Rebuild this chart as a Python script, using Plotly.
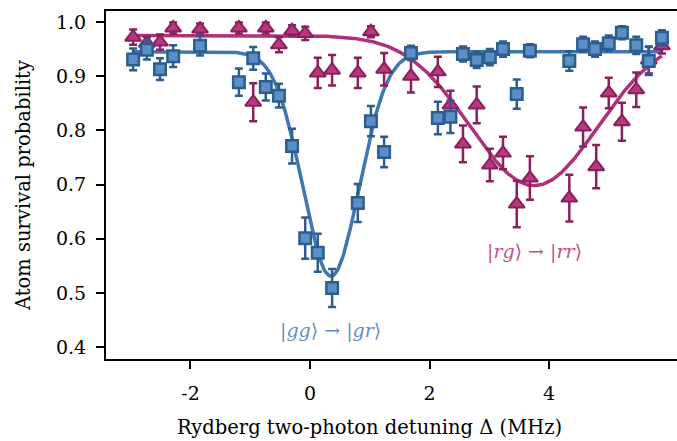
import numpy as np
import plotly.graph_objects as go

# Detuning values (MHz)
x_gg = [-2.96, -2.73, -2.51, -2.29, -1.84, -1.19, -0.95, -0.74, -0.52, -0.30, -0.08,
        0.13, 0.37, 0.80, 1.02, 1.24, 1.69, 2.14, 2.35, 2.56, 2.79, 3.01, 3.23, 3.46,
        3.68, 4.34, 4.57, 4.77, 5.00, 5.22, 5.46, 5.67, 5.89]
y_gg = [0.931, 0.949, 0.913, 0.937, 0.956, 0.889, 0.933, 0.880, 0.864, 0.771, 0.601,
        0.574, 0.509, 0.666, 0.817, 0.760, 0.943, 0.823, 0.825, 0.941, 0.930, 0.935,
        0.950, 0.867, 0.947, 0.928, 0.959, 0.950, 0.961, 0.980, 0.957, 0.928, 0.971]
e_gg = [0.020, 0.018, 0.020, 0.020, 0.018, 0.025, 0.021, 0.025, 0.022, 0.032, 0.038,
        0.035, 0.035, 0.035, 0.028, 0.028, 0.013, 0.030, 0.030, 0.014, 0.015, 0.015,
        0.014, 0.027, 0.012, 0.018, 0.014, 0.014, 0.014, 0.012, 0.016, 0.026, 0.014]

x_rg = [-2.96, -2.73, -2.51, -2.29, -1.84, -1.19, -0.95, -0.74, -0.52, -0.30, -0.08,
        0.13, 0.37, 0.80, 1.02, 1.24, 1.69, 2.14, 2.35, 2.56, 2.79, 3.01, 3.23, 3.46,
        3.68, 4.34, 4.57, 4.79, 5.00, 5.22, 5.46, 5.67, 5.89]
y_rg = [0.972, 0.961, 0.963, 0.989, 0.987, 0.989, 0.852, 0.989, 0.958, 0.984, 0.979,
        0.906, 0.911, 0.906, 0.982, 0.913, 0.900, 0.908, 0.847, 0.775, 0.847, 0.736,
        0.758, 0.664, 0.712, 0.675, 0.806, 0.733, 0.869, 0.816, 0.875, 0.930, 0.956]
e_rg = [0.014, 0.012, 0.014, 0.010, 0.010, 0.010, 0.035, 0.010, 0.014, 0.010, 0.012,
        0.028, 0.028, 0.028, 0.010, 0.030, 0.030, 0.028, 0.026, 0.034, 0.034, 0.030,
        0.030, 0.043, 0.040, 0.043, 0.036, 0.040, 0.028, 0.035, 0.032, 0.025, 0.014]

# Fit parameters (Gaussian dips): baseline, depth, centre, width
fit_gg = dict(b=0.945, a=0.414, x0=0.35, s=0.47)
fit_rg = dict(b=0.975, a=0.277, x0=3.75, s=1.07)

x_ticks = [-2, 0, 2, 4]
y_ticks = [0.4, 0.5, 0.6, 0.7, 0.8, 0.9, 1.0]

BLUE_LINE = "#3f77b1"
BLUE_FILL = "#5b8fc8"
BLUE_EDGE = "#2c5d8e"
RED_LINE = "#b0307a"
RED_FILL = "#b8387f"
RED_EDGE = "#8a1f5c"


def gauss_dip(xx, p):
    return p["b"] - p["a"] * np.exp(-(xx - p["x0"]) ** 2 / (2 * p["s"] ** 2))


xf_gg = np.linspace(min(x_gg), max(x_gg), 400)
xf_rg = np.linspace(min(x_rg), max(x_rg), 400)

fig = go.Figure()
fig.add_trace(go.Scatter(x=xf_gg, y=gauss_dip(xf_gg, fit_gg), mode="lines",
                         line=dict(color=BLUE_LINE, width=3.5), showlegend=False, hoverinfo="skip"))
fig.add_trace(go.Scatter(x=xf_rg, y=gauss_dip(xf_rg, fit_rg), mode="lines",
                         line=dict(color=RED_LINE, width=3.5), showlegend=False, hoverinfo="skip"))
fig.add_trace(go.Scatter(x=x_rg, y=y_rg, mode="markers",
                         marker=dict(symbol="triangle-up", size=14, color=RED_FILL,
                                     line=dict(color=RED_EDGE, width=2)),
                         error_y=dict(type="data", array=e_rg, color=RED_EDGE, thickness=2.5, width=4),
                         showlegend=False))
fig.add_trace(go.Scatter(x=x_gg, y=y_gg, mode="markers",
                         marker=dict(symbol="square", size=11.5, color=BLUE_FILL,
                                     line=dict(color=BLUE_EDGE, width=2.5)),
                         error_y=dict(type="data", array=e_gg, color=BLUE_EDGE, thickness=2.5, width=4),
                         showlegend=False))

FONT = "DejaVu Serif"
fig.add_annotation(x=0.35, y=0.430, text="|<i>gg</i>⟩ → |<i>gr</i>⟩", showarrow=False,
                   font=dict(family=FONT, size=19, color="#5f8fc6"))
fig.add_annotation(x=3.75, y=0.576, text="|<i>rg</i>⟩ → |<i>rr</i>⟩", showarrow=False,
                   font=dict(family=FONT, size=19, color="#c2508d"))
# x-axis title (placed as in the reference, centred slightly left of the plot area)
fig.add_annotation(xref="paper", yref="paper", x=0.4606, y=-0.198, xanchor="center", yanchor="middle",
                   text="Rydberg two-photon detuning Δ (MHz)", showarrow=False,
                   font=dict(family=FONT, size=19.5, color="black"))

fig.update_layout(
    width=677, height=441,
    margin=dict(l=106, r=0, t=11, b=82),
    paper_bgcolor="white", plot_bgcolor="white",
    font=dict(family=FONT, size=18, color="black"),
    xaxis=dict(range=[-3.414, 6.142], tickvals=x_ticks, ticktext=["-2", "0", "2", "4"],
               showgrid=False, zeroline=False, showline=True, mirror=True,
               linecolor="black", linewidth=2, ticks="outside", ticklen=8, tickwidth=2,
               tickcolor="black", tickfont=dict(size=19), ticklabelstandoff=8),
    yaxis=dict(range=[0.378, 1.0203], tickvals=y_ticks, tickformat=".1f",
               showgrid=False, zeroline=False, showline=True, mirror=False,
               linecolor="black", linewidth=2, ticks="outside", ticklen=8, tickwidth=2,
               tickcolor="black", tickfont=dict(size=19), ticklabelstandoff=6,
               title=dict(text="Atom survival probability", font=dict(size=19.5), standoff=20)),
)

fig.write_html("out.html")
